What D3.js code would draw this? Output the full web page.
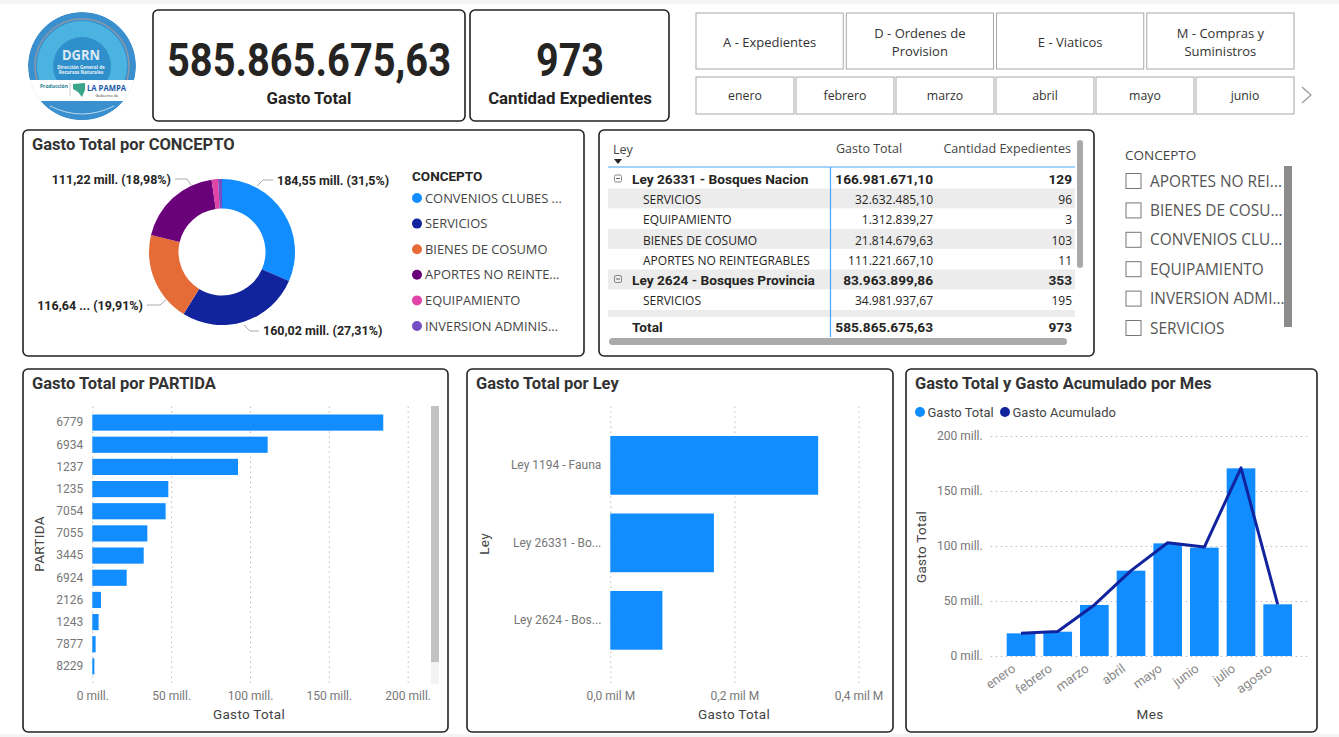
<!DOCTYPE html>
<html>
<head>
<meta charset="utf-8">
<title>Gasto Total</title>
<script src="https://d3js.org/d3.v7.min.js"></script>
<style>
  html, body { margin: 0; padding: 0; background: #fff; overflow: hidden; }
  svg { display: block; }
  text { font-family: "Open Sans", sans-serif; }
  .din { font-family: Roboto, sans-serif; }
  .title { font-family: Roboto, sans-serif; font-weight: 700; font-size: 16.5px; fill: #333; }
  .axis text { font-family: Roboto, sans-serif; font-size: 12px; fill: #777; }
  .axis .domain { display: none; }
  .axis line { stroke: #bdbdbd; stroke-dasharray: 1.5 3.5; }
  .axisTitle { font-family: Roboto, sans-serif; font-size: 13.5px; letter-spacing: .3px; fill: #444; }
  .panel { fill: #fff; stroke: #222; stroke-width: 1.6; }
</style>
</head>
<body>
<svg id="chart" width="1339" height="737"></svg>
<script>
// values
const conceptos = ["CONVENIOS CLUBES ...", "SERVICIOS", "BIENES DE COSUMO", "APORTES NO REINTE...", "EQUIPAMIENTO", "INVERSION ADMINIS..."];
const conceptoValues = [184.55, 160.02, 116.64, 111.22, 8.3, 5.1];
const conceptoColors = ["#118DFF", "#12239E", "#E66C37", "#6B007B", "#E044A7", "#744EC2"];

const partidas = ["6779", "6934", "1237", "1235", "7054", "7055", "3445", "6924", "2126", "1243", "7877", "8229"];
const partidaValues = [184.5, 111.2, 92.4, 48.2, 46.5, 34.9, 32.6, 21.8, 5.5, 4.0, 2.1, 1.3];

const leyes = ["Ley 1194 - Fauna", "Ley 26331 - Bo...", "Ley 2624 - Bos..."];
const leyValues = [0.335, 0.167, 0.084];

const meses = ["enero", "febrero", "marzo", "abril", "mayo", "junio", "julio", "agosto"];
const gastoMes = [20.6, 22.1, 46.4, 77.6, 102.4, 98.5, 170.6, 47];
const acumuladoMes = [20.6, 22.3, 46.4, 77.6, 103, 99, 171, 47];

const tipos = ["A - Expedientes", "D - Ordenes de|Provision", "E - Viaticos", "M - Compras y|Suministros"];
const mesesSlicer = ["enero", "febrero", "marzo", "abril", "mayo", "junio"];
const slicerConceptos = ["APORTES NO REI...", "BIENES DE COSU...", "CONVENIOS CLU...", "EQUIPAMIENTO", "INVERSION ADMI...", "SERVICIOS"];

const tablaNombres = ["Ley 26331 - Bosques Nacion", "SERVICIOS", "EQUIPAMIENTO", "BIENES DE COSUMO", "APORTES NO REINTEGRABLES", "Ley 2624 - Bosques Provincia", "SERVICIOS"];
const tablaGasto = ["166.981.671,10", "32.632.485,10", "1.312.839,27", "21.814.679,63", "111.221.667,10", "83.963.899,86", "34.981.937,67"];
const tablaCantidad = ["129", "96", "3", "103", "11", "353", "195"];

const svg = d3.select("#chart");
const BLUE = "#118DFF";

// page strips
svg.append("rect").attr("width", 1339).attr("height", 4).attr("fill", "#f4f4f4");
svg.append("rect").attr("y", 734).attr("width", 1339).attr("height", 3).attr("fill", "#f4f4f4");

function panel(x, y, w, h) {
  svg.append("rect").attr("class", "panel").attr("x", x).attr("y", y).attr("width", w).attr("height", h).attr("rx", 5);
}
function title(txt, x, y) {
  svg.append("text").attr("class", "title").attr("x", x).attr("y", y).text(txt);
}

// logo
const logo = svg.append("g");
svg.append("clipPath").attr("id", "logoClip").append("circle").attr("cx", 82).attr("cy", 66).attr("r", 54);
const lg = logo.append("g").attr("clip-path", "url(#logoClip)");
lg.append("circle").attr("cx", 82).attr("cy", 66).attr("r", 54).attr("fill", "#3a8fcf");
lg.append("circle").attr("cx", 82).attr("cy", 66).attr("r", 47).attr("fill", "none").attr("stroke", "#8a98a8").attr("stroke-width", 1.5);
lg.append("circle").attr("cx", 82).attr("cy", 66).attr("r", 45).attr("fill", "#4bb3df");
lg.append("circle").attr("cx", 82).attr("cy", 66).attr("r", 29).attr("fill", "#2e8fcb");
lg.append("rect").attr("x", 20).attr("y", 80).attr("width", 124).attr("height", 21).attr("fill", "#fff");
lg.append("rect").attr("x", 20).attr("y", 101).attr("width", 124).attr("height", 25).attr("fill", "#3a8fcf");
lg.append("path").attr("d", "M50,106 Q82,122 114,106").attr("fill", "none").attr("stroke", "#bcd9ee").attr("stroke-width", 1);
logo.append("text").attr("x", 81).attr("y", 60).attr("text-anchor", "middle").attr("font-size", 14).attr("font-weight", 700).attr("fill", "#dfeaf5")
  .attr("textLength", 38).attr("lengthAdjust", "spacingAndGlyphs").text("DGRN");
logo.append("text").attr("x", 81).attr("y", 68.5).attr("text-anchor", "middle").attr("font-size", 4.6).attr("font-weight", 700).attr("fill", "#e8f1f8").text("Dirección General de");
logo.append("text").attr("x", 81).attr("y", 73.5).attr("text-anchor", "middle").attr("font-size", 4.6).attr("font-weight", 700).attr("fill", "#e8f1f8").text("Recursos Naturales");
logo.append("text").attr("x", 54).attr("y", 88).attr("text-anchor", "middle").attr("font-size", 5).attr("font-weight", 700).attr("fill", "#2a7f8f").text("Producción");
logo.append("line").attr("x1", 70).attr("x2", 70).attr("y1", 83).attr("y2", 96).attr("stroke", "#999").attr("stroke-width", 0.5);
logo.append("path").attr("d", "M73,84 L85,83 L85,90 L82,97 L78,92 L73,89 Z").attr("fill", "#3aa58a");
logo.append("text").attr("x", 87).attr("y", 91).attr("font-size", 8).attr("font-weight", 700).attr("fill", "#1d5ba6")
  .attr("textLength", 39).attr("lengthAdjust", "spacingAndGlyphs").text("LA PAMPA");
logo.append("text").attr("x", 107).attr("y", 96.5).attr("text-anchor", "middle").attr("font-size", 4).attr("fill", "#333").text("Gobierno de");

// KPI cards
panel(153, 10, 312, 111);
panel(470, 10, 199, 111);
svg.append("text").attr("class", "din").attr("x", 309).attr("y", 76).attr("text-anchor", "middle")
  .attr("font-size", 46).attr("font-weight", 700).attr("fill", "#252423")
  .attr("textLength", 284).attr("lengthAdjust", "spacingAndGlyphs").text("585.865.675,63");
svg.append("text").attr("class", "din").attr("x", 309).attr("y", 104).attr("text-anchor", "middle")
  .attr("font-size", 16.7).attr("font-weight", 700).attr("fill", "#252423").text("Gasto Total");
svg.append("text").attr("class", "din").attr("x", 570).attr("y", 76).attr("text-anchor", "middle")
  .attr("font-size", 46).attr("font-weight", 700).attr("fill", "#252423")
  .attr("textLength", 68).attr("lengthAdjust", "spacingAndGlyphs").text("973");
svg.append("text").attr("class", "din").attr("x", 570).attr("y", 104).attr("text-anchor", "middle")
  .attr("font-size", 16.8).attr("font-weight", 700).attr("fill", "#252423").text("Cantidad Expedientes");

// slicer buttons
const tipoX = d3.scaleBand().domain(tipos).range([696, 1294]).paddingInner(0.02);
tipos.forEach(t => {
  svg.append("rect").attr("x", tipoX(t)).attr("y", 13).attr("width", tipoX.bandwidth()).attr("height", 56)
    .attr("fill", "#fff").attr("stroke", "#a8a8a8");
  const lines = t.split("|");
  lines.forEach((l, i) => {
    svg.append("text").attr("x", tipoX(t) + tipoX.bandwidth() / 2).attr("y", 47 + (i - (lines.length - 1) / 2) * 17.5)
      .attr("text-anchor", "middle").attr("font-size", 13).attr("fill", "#333").text(l);
  });
});
const mesX = d3.scaleBand().domain(mesesSlicer).range([696, 1294]).paddingInner(0.02);
mesesSlicer.forEach(m => {
  svg.append("rect").attr("x", mesX(m)).attr("y", 77).attr("width", mesX.bandwidth()).attr("height", 37)
    .attr("fill", "#fff").attr("stroke", "#a8a8a8");
  svg.append("text").attr("x", mesX(m) + mesX.bandwidth() / 2).attr("y", 100)
    .attr("text-anchor", "middle").attr("font-size", 12.3).attr("fill", "#333").text(m);
});
svg.append("path").attr("d", "M1302,87 L1311,95 L1302,103").attr("fill", "none").attr("stroke", "#999").attr("stroke-width", 1.2);

// donut
panel(23, 130, 561, 226);
title("Gasto Total por CONCEPTO", 32, 150);
const pie = d3.pie().sort(null);
const arc = d3.arc().innerRadius(43.5).outerRadius(73);
const donut = svg.append("g").attr("transform", "translate(222,252)");
donut.selectAll("path").data(pie(conceptoValues)).join("path")
  .attr("d", arc).attr("fill", (d, i) => conceptoColors[i]);

const pieLabels = ["184,55 mill. (31,5%)", "160,02 mill. (27,31%)", "116,64 ... (19,91%)", "111,22 mill. (18,98%)"];
const labelAnchor = [[277, 185, "start"], [263, 335, "start"], [143, 310, "end"], [171, 184, "end"]];
const leaderPaths = [
  [[257, 186], [263, 180], [273, 180]],
  [[244, 325], [250, 331], [259, 331]],
  [[166, 300], [160, 305], [147, 305]],
  [[191, 185], [187, 179], [175, 179]]
];
pieLabels.forEach((l, i) => {
  svg.append("text").attr("x", labelAnchor[i][0]).attr("y", labelAnchor[i][1]).attr("text-anchor", labelAnchor[i][2])
    .attr("font-size", 12.5).attr("font-weight", 700).attr("class", "din").attr("fill", "#252423").text(l);
  svg.append("path").attr("d", d3.line()(leaderPaths[i])).attr("fill", "none").attr("stroke", "#aaa");
});

svg.append("text").attr("class", "din").attr("x", 412).attr("y", 181).attr("font-size", 13.5).attr("font-weight", 700).attr("fill", "#252423").text("CONCEPTO");
const legendY = d3.scalePoint().domain(conceptos).range([198, 326]);
conceptos.forEach((c, i) => {
  svg.append("circle").attr("cx", 417).attr("cy", legendY(c)).attr("r", 5).attr("fill", conceptoColors[i]);
  svg.append("text").attr("x", 425).attr("y", legendY(c) + 4.5).attr("font-size", 12.9).attr("fill", "#444").text(c);
});

// table
panel(599, 130, 495, 226);
const rowTop = [169, 188.5, 208.5, 229, 249, 269.5, 289];
const rowH = 19.8;
tablaNombres.forEach((n, i) => {
  const grupo = i === 0 || i === 5;
  if (i === 1 || i === 3 || i === 5) {
    svg.append("rect").attr("x", 608).attr("y", rowTop[i]).attr("width", 467).attr("height", rowH).attr("fill", "#ececec");
  }
  const y = rowTop[i] + (grupo ? 15 : 15.5);
  const size = grupo ? 13.7 : 12;
  svg.append("text").attr("x", grupo ? 632 : 643).attr("y", y).attr("font-size", size)
    .attr("class", grupo ? "din" : null).attr("font-weight", grupo ? 700 : 400).attr("fill", "#252423").text(n);
  svg.append("text").attr("x", 933).attr("y", y).attr("text-anchor", "end").attr("font-size", size)
    .attr("class", grupo ? "din" : null).attr("font-weight", grupo ? 700 : 400).attr("fill", "#252423").text(tablaGasto[i]);
  svg.append("text").attr("x", 1072).attr("y", y).attr("text-anchor", "end").attr("font-size", size)
    .attr("class", grupo ? "din" : null).attr("font-weight", grupo ? 700 : 400).attr("fill", "#252423").text(tablaCantidad[i]);
  if (grupo) {
    svg.append("rect").attr("x", 614.5).attr("y", rowTop[i] + 6).attr("width", 7).attr("height", 7).attr("rx", 1.5)
      .attr("fill", "none").attr("stroke", "#888");
    svg.append("line").attr("x1", 616).attr("x2", 620).attr("y1", rowTop[i] + 9.5).attr("y2", rowTop[i] + 9.5).attr("stroke", "#666");
  }
});
svg.append("rect").attr("x", 608).attr("y", 310).attr("width", 467).attr("height", 7).attr("fill", "#ececec");
svg.append("text").attr("class", "din").attr("x", 632).attr("y", 332).attr("font-size", 13.7).attr("font-weight", 700).attr("fill", "#252423").text("Total");
svg.append("text").attr("class", "din").attr("x", 933).attr("y", 332).attr("text-anchor", "end").attr("font-size", 13.7).attr("font-weight", 700).attr("fill", "#252423").text("585.865.675,63");
svg.append("text").attr("class", "din").attr("x", 1072).attr("y", 332).attr("text-anchor", "end").attr("font-size", 13.7).attr("font-weight", 700).attr("fill", "#252423").text("973");
svg.append("text").attr("x", 613).attr("y", 154).attr("font-size", 12.5).attr("fill", "#444").text("Ley");
svg.append("path").attr("d", "M614,159 L622,159 L618,164 Z").attr("fill", "#252423");
svg.append("text").attr("x", 836).attr("y", 153).attr("font-size", 12.5).attr("fill", "#444").text("Gasto Total");
svg.append("text").attr("x", 1071).attr("y", 153).attr("text-anchor", "end").attr("font-size", 12.6).attr("fill", "#444").text("Cantidad Expedientes");
svg.append("line").attr("x1", 608).attr("x2", 1075).attr("y1", 167).attr("y2", 167).attr("stroke", "#4da6f5").attr("stroke-width", 1.2);
svg.append("line").attr("x1", 830.5).attr("x2", 830.5).attr("y1", 167).attr("y2", 337).attr("stroke", "#4da6f5").attr("stroke-width", 1.2);
svg.append("rect").attr("x", 1077).attr("y", 140).attr("width", 6).attr("height", 128).attr("rx", 3).attr("fill", "#aaa");
svg.append("rect").attr("x", 609).attr("y", 338).attr("width", 458).attr("height", 7).attr("rx", 3.5).attr("fill", "#aaa");

// checkbox slicer
svg.append("text").attr("x", 1125).attr("y", 160).attr("font-size", 13.5).attr("fill", "#444").text("CONCEPTO");
const slicerY = d3.scalePoint().domain(slicerConceptos).range([181, 328]);
slicerConceptos.forEach(c => {
  svg.append("rect").attr("x", 1126).attr("y", slicerY(c) - 7.5).attr("width", 15).attr("height", 15).attr("fill", "#fff").attr("stroke", "#777");
  svg.append("text").attr("x", 1150).attr("y", slicerY(c) + 5.5).attr("font-size", 15.4).attr("fill", "#555").text(c);
});
svg.append("rect").attr("x", 1284).attr("y", 166).attr("width", 8).attr("height", 161).attr("fill", "#8c8c8c");

// bars por partida
panel(23, 369, 425, 363);
title("Gasto Total por PARTIDA", 32, 389);
const xPartida = d3.scaleLinear().domain([0, 200]).range([92.3, 407.7]);
const yPartida = d3.scaleBand().domain(partidas).range([411.5, 677.5]).paddingInner(0.27).paddingOuter(0.135);
svg.append("g").attr("class", "axis").attr("transform", "translate(0,683)")
  .call(d3.axisBottom(xPartida).tickValues([0, 50, 100, 150, 200]).tickSize(-278).tickPadding(6).tickFormat(d => d + " mill."))
  .selectAll("text").attr("dy", "0.9em");
svg.append("g").attr("class", "axis").attr("transform", "translate(92.3,0)")
  .call(d3.axisLeft(yPartida).tickSize(0).tickPadding(9));
svg.selectAll(".barPartida").data(partidaValues).join("rect").attr("class", "barPartida")
  .attr("x", xPartida(0)).attr("y", (d, i) => yPartida(partidas[i]))
  .attr("width", d => xPartida(d) - xPartida(0)).attr("height", yPartida.bandwidth()).attr("fill", BLUE);
svg.append("text").attr("class", "axisTitle").attr("x", 249).attr("y", 719).attr("text-anchor", "middle").text("Gasto Total");
svg.append("text").attr("class", "axisTitle").attr("transform", "translate(44,544) rotate(-90)").attr("text-anchor", "middle").text("PARTIDA");
svg.append("rect").attr("x", 431).attr("y", 406).attr("width", 8).attr("height", 278).attr("fill", "#f3f3f3");
svg.append("rect").attr("x", 431).attr("y", 406).attr("width", 8).attr("height", 256).attr("fill", "#c2c2c2");

// bars por ley
panel(467, 369, 426, 363);
title("Gasto Total por Ley", 476, 389);
const xLey = d3.scaleLinear().domain([0, 0.4]).range([610.3, 858.5]);
const yLey = d3.scaleBand().domain(leyes).range([426.6, 659.1]).paddingInner(0.242).paddingOuter(0.121);
const fmtLey = d3.formatLocale({ decimal: ",", thousands: ".", grouping: [3], currency: ["", ""] }).format(".1f");
svg.append("g").attr("class", "axis").attr("transform", "translate(0,683)")
  .call(d3.axisBottom(xLey).tickValues([0, 0.2, 0.4]).tickSize(-278).tickPadding(6).tickFormat(d => fmtLey(d) + " mil M"))
  .selectAll("text").attr("dy", "0.9em");
svg.append("g").attr("class", "axis").attr("transform", "translate(610.3,0)")
  .call(d3.axisLeft(yLey).tickSize(0).tickPadding(9));
svg.selectAll(".barLey").data(leyValues).join("rect").attr("class", "barLey")
  .attr("x", xLey(0)).attr("y", (d, i) => yLey(leyes[i]))
  .attr("width", d => xLey(d) - xLey(0)).attr("height", yLey.bandwidth()).attr("fill", BLUE);
svg.append("text").attr("class", "axisTitle").attr("x", 734).attr("y", 719).attr("text-anchor", "middle").text("Gasto Total");
svg.append("text").attr("class", "axisTitle").attr("transform", "translate(489,544) rotate(-90)").attr("text-anchor", "middle").text("Ley");

// combo mes
panel(906, 369, 411, 363);
title("Gasto Total y Gasto Acumulado por Mes", 915, 389);
svg.append("circle").attr("cx", 920).attr("cy", 412).attr("r", 5).attr("fill", BLUE);
svg.append("text").attr("class", "din").attr("x", 927.5).attr("y", 417).attr("font-size", 13).attr("fill", "#444").text("Gasto Total");
svg.append("circle").attr("cx", 1005).attr("cy", 412).attr("r", 5).attr("fill", "#12239E");
svg.append("text").attr("class", "din").attr("x", 1012.5).attr("y", 417).attr("font-size", 13).attr("fill", "#444").text("Gasto Acumulado");
const xMes = d3.scaleBand().domain(meses).range([1002.7, 1296]).paddingInner(0.218).paddingOuter(0.109);
const yMes = d3.scaleLinear().domain([0, 200]).range([656, 436]);
svg.append("g").attr("class", "axis").attr("transform", "translate(990.7,0)")
  .call(d3.axisLeft(yMes).tickValues([0, 50, 100, 150, 200]).tickSize(-317).tickPadding(8).tickFormat(d => d + " mill."));
svg.selectAll(".barMes").data(gastoMes).join("rect").attr("class", "barMes")
  .attr("x", (d, i) => xMes(meses[i])).attr("y", d => yMes(d))
  .attr("width", xMes.bandwidth()).attr("height", d => yMes(0) - yMes(d)).attr("fill", BLUE);
svg.append("path").datum(acumuladoMes).attr("fill", "none").attr("stroke", "#12239E").attr("stroke-width", 3).attr("stroke-linejoin", "round")
  .attr("d", d3.line().x((d, i) => xMes(meses[i]) + xMes.bandwidth() / 2).y(d => yMes(d)));
const axMes = svg.append("g").attr("class", "axis").attr("transform", "translate(0,656)")
  .call(d3.axisBottom(xMes).tickSize(0).tickPadding(0));
axMes.selectAll("text").attr("text-anchor", "end").style("font-size", "13px").style("fill", "#888")
  .attr("transform", "translate(-10,7) rotate(-36)").attr("dy", "0.7em");
svg.append("text").attr("class", "axisTitle").attr("x", 1150).attr("y", 719).attr("text-anchor", "middle").text("Mes");
svg.append("text").attr("class", "axisTitle").attr("transform", "translate(926,547) rotate(-90)").attr("text-anchor", "middle").text("Gasto Total");
</script>
</body>
</html>
